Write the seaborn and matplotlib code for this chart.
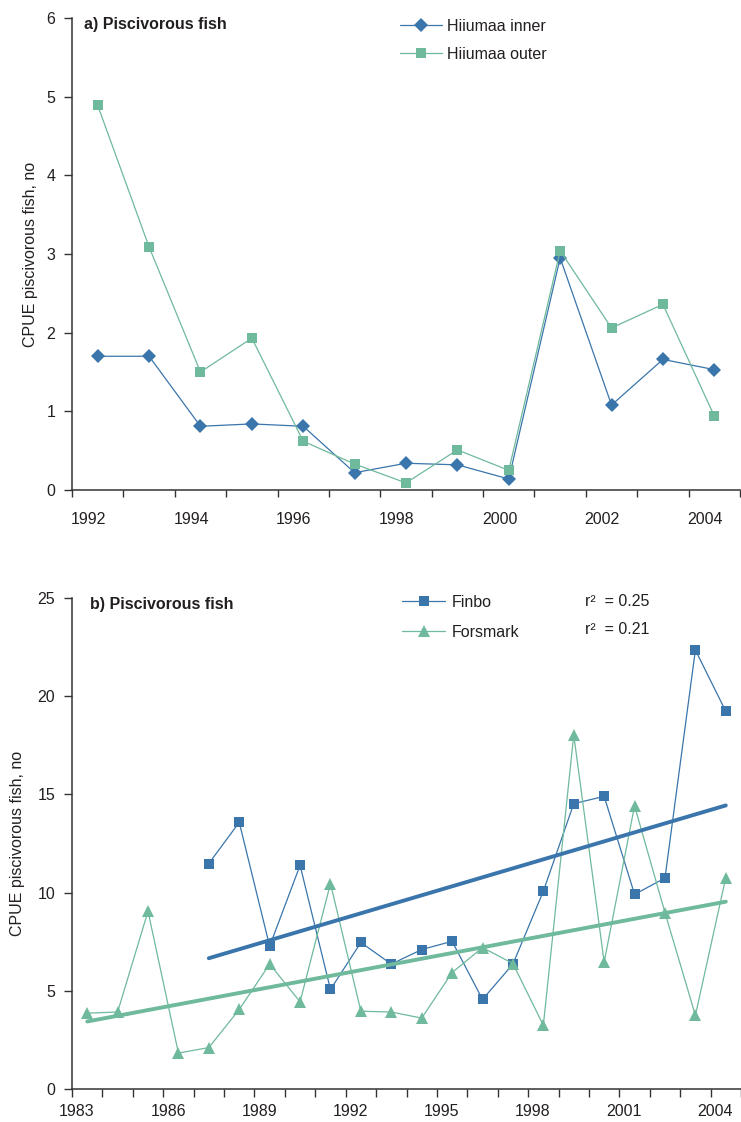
import numpy as np
import pandas as pd
import matplotlib
matplotlib.use("Agg")
import matplotlib.pyplot as plt
import seaborn as sns

# ---------------- data ----------------
years_a = list(range(1992, 2005))
hiiumaa_inner = [1.70, 1.70, 0.81, 0.84, 0.81, 0.22, 0.34, 0.32, 0.14, 2.95, 1.08, 1.66, 1.53]
hiiumaa_outer = [4.89, 3.09, 1.50, 1.93, 0.62, 0.33, 0.09, 0.51, 0.25, 3.04, 2.06, 2.36, 0.94]
labels_a = ["1992", "1994", "1996", "1998", "2000", "2002", "2004"]

years_finbo = list(range(1987, 2005))
finbo = [11.48, 13.58, 7.27, 11.39, 5.07, 7.46, 6.36, 7.10, 7.52, 4.56, 6.36,
         10.07, 14.53, 14.90, 9.91, 10.74, 22.35, 19.23]
years_forsmark = list(range(1983, 2005))
forsmark = [3.86, 3.92, 9.05, 1.83, 2.11, 4.05, 6.36, 4.44, 10.46, 3.96, 3.92,
            3.61, 5.93, 7.20, 6.39, 3.24, 18.03, 6.46, 14.42, 8.98, 3.75, 10.76]
labels_b = ["1983", "1986", "1989", "1992", "1995", "1998", "2001", "2004"]
r2_texts = ["r\u00b2  = 0.25", "r\u00b2  = 0.21"]

# ---------------- style ----------------
sns.set_theme(style="ticks")
plt.rcParams["font.family"] = ["Liberation Sans", "DejaVu Sans"]
TXT = "#231f20"
AX = "#333333"
BLUE = "#3a75ab"
GREEN = "#6fb99c"

W, H = 741, 1122
fig = plt.figure(figsize=(W / 100, H / 100), dpi=100)

def frac(l, r, t, b):
    return [l / W, 1 - b / H, (r - l) / W, (b - t) / H]

def style_axes(ax):
    sns.despine(ax=ax)
    for s in ("left", "bottom"):
        ax.spines[s].set_color(AX)
        ax.spines[s].set_linewidth(1.1)
    ax.tick_params(axis="y", which="major", direction="out", length=6, width=1.0,
                   color=AX, labelcolor=TXT, labelsize=11.5, pad=6)
    ax.tick_params(axis="x", which="major", direction="out", length=5, width=1.0,
                   color=AX, labelbottom=False)
    ax.tick_params(axis="x", which="minor", length=0, labelcolor=TXT, labelsize=11.5)
    ax.grid(False)

# ---------------- panel a ----------------
ax1 = fig.add_axes(frac(72, 740, 18, 490))
df_a = pd.DataFrame({"year": years_a, "inner": hiiumaa_inner, "outer": hiiumaa_outer})
sns.lineplot(data=df_a, x="year", y="inner", ax=ax1, color=BLUE, lw=0.9,
             marker="D", markersize=7, markeredgewidth=0, label="Hiiumaa inner")
sns.lineplot(data=df_a, x="year", y="outer", ax=ax1, color=GREEN, lw=0.9,
             marker="s", markersize=7, markeredgewidth=0, label="Hiiumaa outer")
ax1.set_xlim(years_a[0] - 0.5, years_a[-1] + 0.5)
ax1.set_ylim(0, 6)
ax1.set_yticks(range(0, 7))
style_axes(ax1)
ax1.set_xticks(np.arange(years_a[0] - 0.5, years_a[-1] + 1.0, 1.0))
ax1.set_xticks([int(l) - 0.18 for l in labels_a], labels=labels_a, minor=True)
ax1.tick_params(axis="x", which="minor", pad=16)
ax1.set_xlabel("")
ax1.set_ylabel("CPUE piscivorous fish, no", fontsize=11.5, color=TXT)
ax1.yaxis.set_label_coords((38 - 72) / 668, 0.5)
ax1.text((84 - 72) / 668, (490 - 24) / 472, "a) Piscivorous fish", transform=ax1.transAxes,
         fontsize=11.5, fontweight="bold", color=TXT, va="center", ha="left")
ax1.legend(loc="upper left", bbox_to_anchor=((400 - 72) / 668, (490 - 19) / 472),
           frameon=False, borderpad=0, borderaxespad=0, fontsize=11.5,
           handlelength=2.6, handletextpad=0.35, labelspacing=0.79, labelcolor=TXT)

# ---------------- panel b ----------------
ax2 = fig.add_axes(frac(72, 741, 598, 1089))
df_f = pd.DataFrame({"year": years_finbo, "cpue": finbo})
df_g = pd.DataFrame({"year": years_forsmark, "cpue": forsmark})
sns.lineplot(data=df_f, x="year", y="cpue", ax=ax2, color=BLUE, lw=0.9,
             marker="s", markersize=7, markeredgewidth=0, label="Finbo")
sns.lineplot(data=df_g, x="year", y="cpue", ax=ax2, color=GREEN, lw=0.9,
             marker="^", markersize=8.5, markeredgewidth=0, label="Forsmark")
sns.regplot(data=df_f, x="year", y="cpue", ax=ax2, scatter=False, ci=None, truncate=True,
            line_kws=dict(color=BLUE, lw=2.8, zorder=5))
sns.regplot(data=df_g, x="year", y="cpue", ax=ax2, scatter=False, ci=None, truncate=True,
            line_kws=dict(color=GREEN, lw=2.8, zorder=5))
ax2.set_xlim(years_forsmark[0] - 0.5, years_forsmark[-1] + 0.5)
ax2.set_ylim(0, 25)
ax2.set_yticks(range(0, 26, 5))
style_axes(ax2)
ax2.set_xticks(np.arange(years_forsmark[0] - 0.5, years_forsmark[-1] + 1.0, 1.0))
ax2.set_xticks([int(l) - 0.34 for l in labels_b], labels=labels_b, minor=True)
ax2.tick_params(axis="x", which="minor", pad=11)
ax2.tick_params(axis="x", which="major", length=6)
ax2.set_xlabel("")
ax2.set_ylabel("CPUE piscivorous fish, no", fontsize=11.5, color=TXT)
ax2.yaxis.set_label_coords((25 - 72) / 669, 0.5)
ax2.text((90 - 72) / 669, (1089 - 604) / 491, "b) Piscivorous fish", transform=ax2.transAxes,
         fontsize=11.5, fontweight="bold", color=TXT, va="center", ha="left")
ax2.legend(loc="upper left", bbox_to_anchor=((402 - 72) / 669, (1089 - 595) / 491),
           frameon=False, borderpad=0, borderaxespad=0, fontsize=11.5,
           handlelength=2.7, handletextpad=0.42, labelspacing=0.92, labelcolor=TXT)
for i, t in enumerate(r2_texts):
    ax2.text((585 - 72) / 669, (1089 - (601 + 29 * i)) / 491, t, transform=ax2.transAxes,
             fontsize=11.5, color=TXT, va="center", ha="left")

fig.savefig("out.png", dpi=100)
